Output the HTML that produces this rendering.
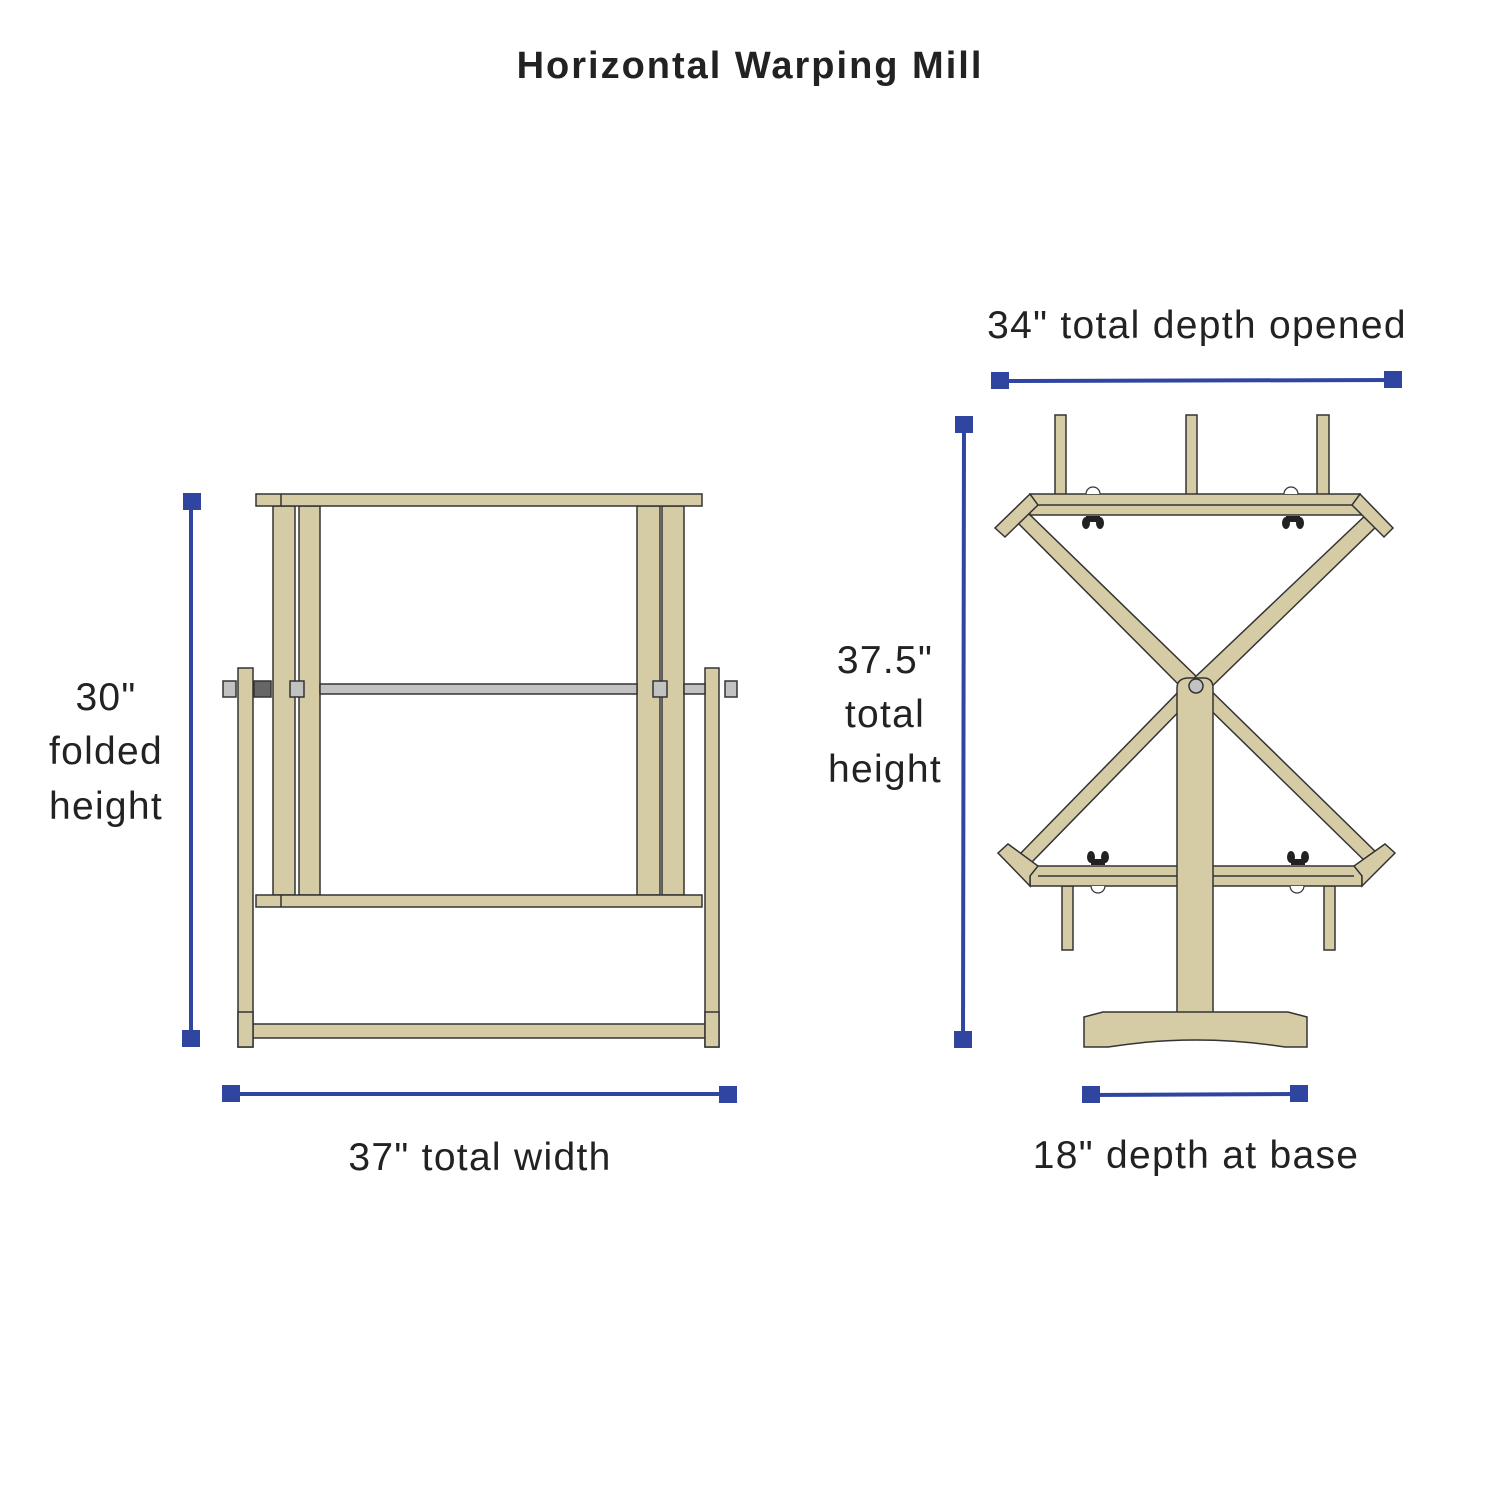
<!DOCTYPE html>
<html><head><meta charset="utf-8"><style>html,body{margin:0;padding:0;background:#fff}svg{display:block}</style></head>
<body>
<svg width="1500" height="1500" viewBox="0 0 1500 1500" xmlns="http://www.w3.org/2000/svg" font-family="Liberation Sans, sans-serif">
<rect width="1500" height="1500" fill="#fff"/>
<text x="750" y="78" text-anchor="middle" font-size="38" font-weight="bold" fill="#222" letter-spacing="2">Horizontal Warping Mill</text>

<g fill="#d5cca6" stroke="#333" stroke-width="1.5">
<!-- LEFT MILL -->
<rect x="238" y="668" width="15" height="379"/>
<rect x="705" y="668" width="14" height="379"/>
<rect x="253" y="1024" width="452" height="14"/>
<rect x="238" y="1012" width="15" height="35"/>
<rect x="705" y="1012" width="14" height="35"/>
<rect x="273" y="506" width="22" height="389"/>
<rect x="299" y="506" width="21" height="389"/>
<rect x="637" y="506" width="23" height="389"/>
<rect x="662" y="506" width="22" height="389"/>
<rect x="256" y="494" width="446" height="12"/>
<line x1="281" y1="494" x2="281" y2="506"/>
<rect x="256" y="895" width="446" height="12"/>
<line x1="281" y1="895" x2="281" y2="907"/>
<g fill="#c2c2c2">
<rect x="320" y="684" width="317" height="10"/>
<rect x="684" y="684" width="21" height="10"/>
<rect x="223" y="681" width="13" height="16"/>
<rect x="725" y="681" width="12" height="16"/>
<rect x="290" y="681" width="14" height="16"/>
<rect x="653" y="681" width="14" height="16"/>
</g>
<rect x="254" y="681" width="17" height="16" fill="#666"/>

<!-- RIGHT MILL -->
<rect x="1055" y="415" width="11" height="80"/>
<rect x="1186" y="415" width="11" height="80"/>
<rect x="1317" y="415" width="12" height="80"/>
<rect x="1062" y="886" width="11" height="64"/>
<rect x="1324" y="886" width="11" height="64"/>
<!-- diagonal arms -->
<polygon points="1015,520 1027,512 1202,682 1188,694"/>
<polygon points="1369,512 1381,522 1204,694 1190,682"/>
<polygon points="1190,680 1200,690 1028,866 1018,856"/>
<polygon points="1190,690 1200,680 1382,858 1372,868"/>
<!-- top bar -->
<polygon points="1030,494 1360,494 1361,515 1030,515"/>
<line x1="1038" y1="505" x2="1352" y2="505"/>
<polygon points="1030,494 1038,505 1005,537 995,528"/>
<polygon points="1360,494 1352,505 1384,537 1393,528"/>
<!-- bottom bar -->
<polygon points="1030,866 1362,866 1362,886 1030,886"/>
<line x1="1038" y1="876" x2="1354" y2="876"/>
<polygon points="1030,876 1038,866 1008,844 998,853 1030,886"/>
<polygon points="1362,876 1354,866 1385,844 1395,853 1362,886"/>
<!-- center post -->
<path d="M1177,1013 L1177,688 Q1177,679 1187,678 L1205,678 Q1213,679 1213,688 L1213,1013 Z"/>
<path d="M1084,1017 L1103,1012 L1288,1012 L1307,1017 L1307,1047 L1285,1047 Q1196,1033 1108,1047 L1084,1047 Z"/>
</g>
<circle cx="1196" cy="686" r="7" fill="#c2c2c2" stroke="#333" stroke-width="1.5"/>
<g fill="#fff" stroke="#333" stroke-width="1.2">
<path d="M1086,494 a7,7 0 0 1 14,0"/>
<path d="M1284,494 a7,7 0 0 1 14,0"/>
<path d="M1091,886 a7,7 0 0 0 14,0"/>
<path d="M1290,886 a7,7 0 0 0 14,0"/>
</g>
<g fill="#222">
<ellipse cx="1086" cy="523" rx="4" ry="6"/><ellipse cx="1100" cy="523" rx="4" ry="6"/><rect x="1086" y="516" width="14" height="6"/>
<ellipse cx="1286" cy="523" rx="4" ry="6"/><ellipse cx="1300" cy="523" rx="4" ry="6"/><rect x="1286" y="516" width="14" height="6"/>
<ellipse cx="1091" cy="857" rx="4" ry="6"/><ellipse cx="1105" cy="857" rx="4" ry="6"/><rect x="1091" y="859" width="14" height="6"/>
<ellipse cx="1291" cy="857" rx="4" ry="6"/><ellipse cx="1305" cy="857" rx="4" ry="6"/><rect x="1291" y="859" width="14" height="6"/>
</g>

<!-- dimension lines -->
<g stroke="#2f45a0" stroke-width="4" fill="#2f45a0">
<line x1="191" y1="501" x2="191" y2="1038"/>
<rect x="183" y="493" width="18" height="17" stroke="none"/>
<rect x="182" y="1030" width="18" height="17" stroke="none"/>
<line x1="231" y1="1094" x2="728" y2="1094"/>
<rect x="222" y="1085" width="18" height="17" stroke="none"/>
<rect x="719" y="1086" width="18" height="17" stroke="none"/>
<line x1="1000" y1="381" x2="1393" y2="380"/>
<rect x="991" y="372" width="18" height="17" stroke="none"/>
<rect x="1384" y="371" width="18" height="17" stroke="none"/>
<line x1="964" y1="424" x2="963" y2="1040"/>
<rect x="955" y="416" width="18" height="17" stroke="none"/>
<rect x="954" y="1031" width="18" height="17" stroke="none"/>
<line x1="1091" y1="1095" x2="1299" y2="1094"/>
<rect x="1082" y="1086" width="18" height="17" stroke="none"/>
<rect x="1290" y="1085" width="18" height="17" stroke="none"/>
</g>

<g font-size="39" fill="#222" text-anchor="middle" letter-spacing="1.3">
<text x="106" y="710">30"</text>
<text x="106" y="764">folded</text>
<text x="106" y="819">height</text>
<text x="885" y="673">37.5"</text>
<text x="885" y="727">total</text>
<text x="885" y="782">height</text>
<text x="480" y="1170">37" total width</text>
<text x="1197" y="338">34" total depth opened</text>
<text x="1196" y="1168">18" depth at base</text>
</g>
</svg>
</body></html>
